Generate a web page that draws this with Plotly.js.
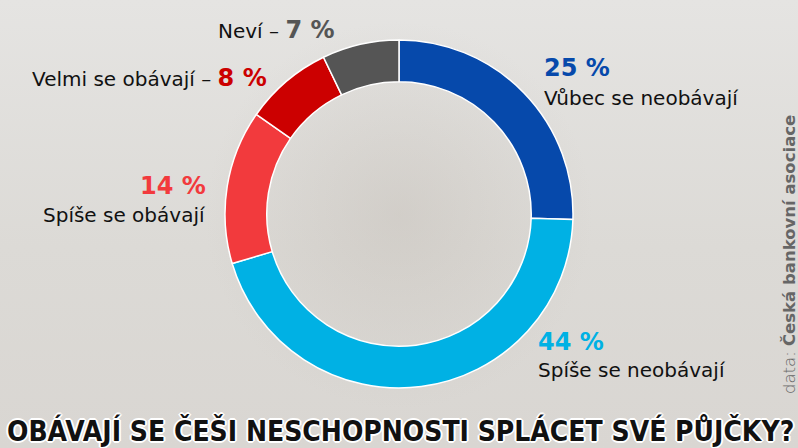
<!DOCTYPE html>
<html>
<head>
<meta charset="utf-8">
<script src="https://cdn.plot.ly/plotly-3.0.1.min.js"></script>
<style>
  html, body { margin: 0; padding: 0; }
  #chart {
    width: 798px;
    height: 448px;
    background:
      radial-gradient(circle at 50% 48%, rgba(188,181,173,0.35) 0%, rgba(188,181,173,0) 42%),
      linear-gradient(180deg, #e5e4e2 0%, #dcdad6 55%, #d9d6d2 100%);
  }
</style>
</head>
<body>
<div id="chart"></div>
<script>
// Odpovědi a podíly (%)
var labels = ['Vůbec se neobávají', 'Spíše se neobávají', 'Spíše se obávají', 'Velmi se obávají', 'Neví'];
var values = [25, 44, 14, 8, 7];
var colors = ['#0649ab', '#00b1e4', '#f23a3d', '#cc0000', '#555555'];

var chartTitle = 'OBÁVAJÍ SE ČEŠI NESCHOPNOSTI SPLÁCET SVÉ PŮJČKY?';
var source = '<span style="font-weight:300">data:</span> <b>Česká bankovní asociace</b>';

var W = 798, H = 448;
function px(x) { return x / W; }
function py(y) { return 1 - y / H; }

var labelFont = 'DejaVu Sans, sans-serif';

function pct(i) { return values[i] + ' %'; }

var trace = {
    type: 'pie',
    labels: labels,
    values: values,
    hole: 0.76,
    sort: false,
    direction: 'clockwise',
    rotation: 0,
    textinfo: 'none',
    hoverinfo: 'label+value',
    marker: { colors: colors, line: { color: '#ffffff', width: 1.5 } },
    domain: { x: [px(223), px(575)], y: [py(388), py(40)] },
    showlegend: false
};

function ann(text, x, y, xanchor, size, color, extra) {
    var a = {
        xref: 'paper', yref: 'paper',
        x: px(x), y: py(y),
        xanchor: xanchor, yanchor: 'middle',
        text: text, showarrow: false,
        font: { family: labelFont, size: size, color: color }
    };
    for (var k in extra) a[k] = extra[k];
    return a;
}

var annotations = [
    // Vůbec se neobávají
    ann('<b>' + pct(0) + '</b>', 542, 68, 'left', 24, colors[0]),
    ann(labels[0], 542, 98, 'left', 20, '#111'),
    // Spíše se neobávají
    ann('<b>' + pct(1) + '</b>', 536, 342, 'left', 24, colors[1]),
    ann(labels[1], 536, 370, 'left', 20, '#111'),
    // Spíše se obávají
    ann('<b>' + pct(2) + '</b>', 208, 186, 'right', 24, colors[2]),
    ann(labels[2], 208, 215, 'right', 20, '#111'),
    // Velmi se obávají
    ann(labels[3] + ' – <b><span style="color:' + colors[3] + ';font-size:24px">' + pct(3) + '</span></b>',
        269, 78, 'right', 20, '#111'),
    // Neví
    ann(labels[4] + ' – <b><span style="color:' + colors[4] + ';font-size:24px">' + pct(4) + '</span></b>',
        216, 30, 'left', 20, '#111'),
    // titulek
    ann('<b>' + chartTitle + '</b>', 400, 431, 'center', 28, '#111', {
        font: {
            family: 'DejaVu Sans Condensed, sans-serif', size: 28, color: '#111',
            shadow: '1px 1px 0 #fff, -1px -1px 0 #fff, 1px -1px 0 #fff, -1px 1px 0 #fff, 0 2px 0 #fff, 0 -2px 0 #fff, 2px 0 0 #fff, -2px 0 0 #fff'
        }
    }),
    // zdroj
    ann(source, 789, 255, 'center', 16.5, '#666', { textangle: -90 })
];

var layout = {
    width: W,
    height: H,
    margin: { l: 0, r: 0, t: 0, b: 0 },
    paper_bgcolor: 'rgba(0,0,0,0)',
    plot_bgcolor: 'rgba(0,0,0,0)',
    annotations: annotations
};

Plotly.newPlot('chart', [trace], layout, { displayModeBar: false, staticPlot: true });
</script>
</body>
</html>
